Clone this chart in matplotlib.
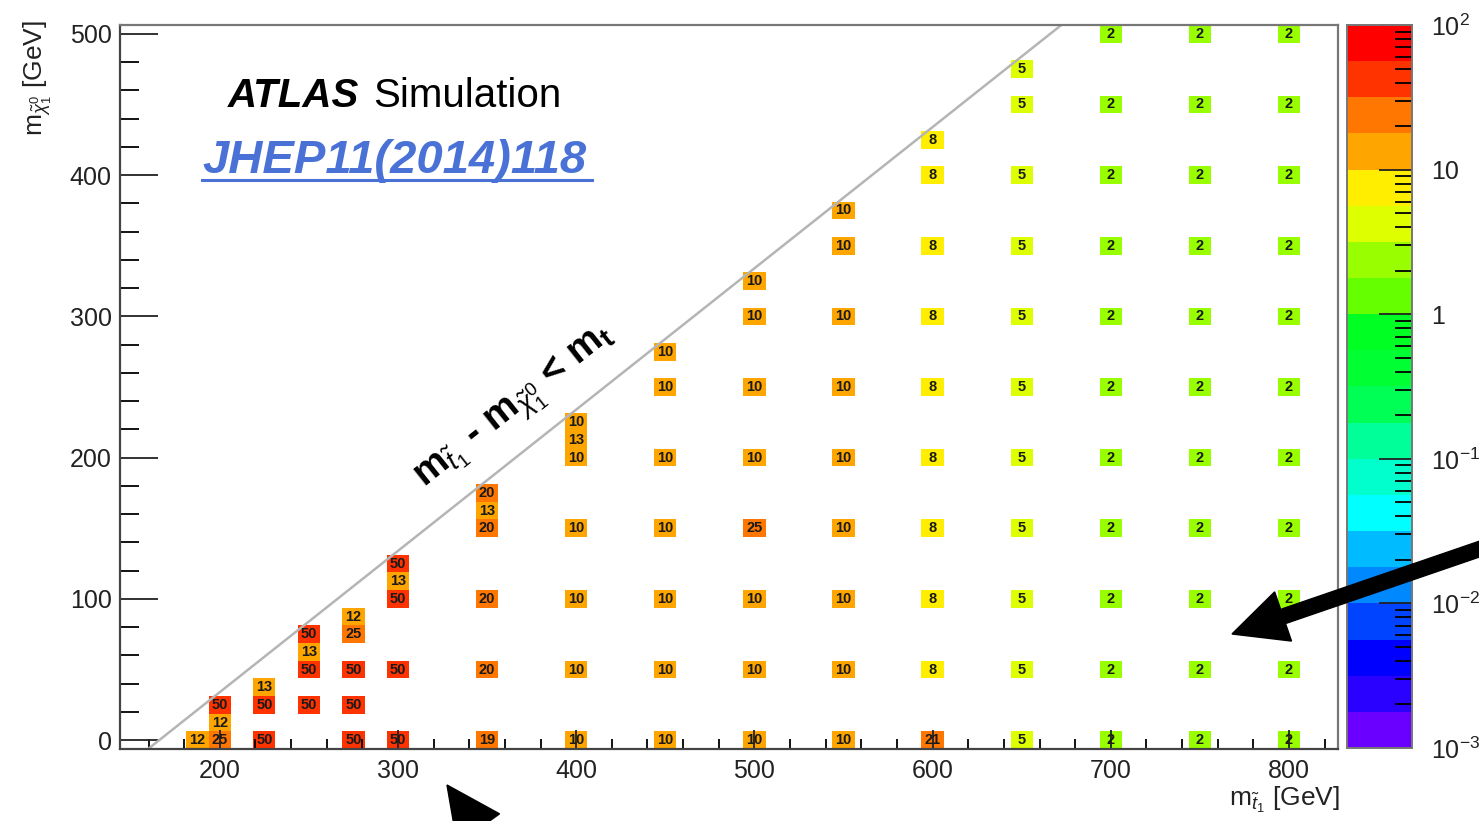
import numpy as np
import matplotlib
matplotlib.use("Agg")
import matplotlib.pyplot as plt
from matplotlib.colors import ListedColormap, BoundaryNorm
from matplotlib.ticker import MultipleLocator, LogLocator, FuncFormatter, NullFormatter
from matplotlib.patches import FancyArrow
from matplotlib.lines import Line2D
import matplotlib.transforms as mtransforms

plt.rcParams['font.family'] = 'Liberation Sans'
plt.rcParams['mathtext.fontset'] = 'custom'
plt.rcParams['mathtext.rm'] = 'Liberation Sans'
plt.rcParams['mathtext.it'] = 'Liberation Sans:italic'
plt.rcParams['mathtext.bf'] = 'Liberation Sans:bold'

# grid points: stop mass, neutralino mass, number of events per point (x1000)
m_stop = [187.5,
          200, 200, 200,
          225, 225, 225,
          250, 250, 250, 250,
          275, 275, 275, 275, 275,
          300, 300, 300, 300, 300,
          350, 350, 350, 350, 350, 350,
          400, 400, 400, 400, 400, 400, 400,
          450, 450, 450, 450, 450, 450, 450,
          500, 500, 500, 500, 500, 500, 500, 500,
          550, 550, 550, 550, 550, 550, 550, 550, 550,
          600, 600, 600, 600, 600, 600, 600, 600, 600, 600,
          650, 650, 650, 650, 650, 650, 650, 650, 650, 650, 650,
          700, 700, 700, 700, 700, 700, 700, 700, 700, 700, 700,
          750, 750, 750, 750, 750, 750, 750, 750, 750, 750, 750,
          800, 800, 800, 800, 800, 800, 800, 800, 800, 800, 800]
m_lsp = [0,
         0, 12.5, 25,
         0, 25, 37.5,
         25, 50, 62.5, 75,
         0, 25, 50, 75, 87.5,
         0, 50, 100, 112.5, 125,
         0, 50, 100, 150, 162.5, 175,
         0, 50, 100, 150, 200, 212.5, 225,
         0, 50, 100, 150, 200, 250, 275,
         0, 50, 100, 150, 200, 250, 300, 325,
         0, 50, 100, 150, 200, 250, 300, 350, 375,
         0, 50, 100, 150, 200, 250, 300, 350, 400, 425,
         0, 50, 100, 150, 200, 250, 300, 350, 400, 450, 475,
         0, 50, 100, 150, 200, 250, 300, 350, 400, 450, 500,
         0, 50, 100, 150, 200, 250, 300, 350, 400, 450, 500,
         0, 50, 100, 150, 200, 250, 300, 350, 400, 450, 500]
n_events = [12,
            25, 12, 50,
            50, 50, 13,
            50, 50, 13, 50,
            50, 50, 50, 25, 12,
            50, 50, 50, 13, 50,
            19, 20, 20, 20, 13, 20,
            10, 10, 10, 10, 10, 13, 10,
            10, 10, 10, 10, 10, 10, 10,
            10, 10, 10, 25, 10, 10, 10, 10,
            10, 10, 10, 10, 10, 10, 10, 10, 10,
            21, 8, 8, 8, 8, 8, 8, 8, 8, 8,
            5, 5, 5, 5, 5, 5, 5, 5, 5, 5, 5,
            2, 2, 2, 2, 2, 2, 2, 2, 2, 2, 2,
            2, 2, 2, 2, 2, 2, 2, 2, 2, 2, 2,
            2, 2, 2, 2, 2, 2, 2, 2, 2, 2, 2]

m_top = 166.0
bin_w = 12.5

# ROOT-like rainbow palette, 20 contour levels over 1e-3 .. 1e2
palette = ['#6a00ff', '#2a00ff', '#0000ff', '#0044ff', '#0088ff',
           '#00bbff', '#00ffff', '#00ffcc', '#00ff99', '#00ff55',
           '#00ff33', '#00ff22', '#66ff00', '#99ff00', '#ddff00',
           '#ffee00', '#ffa500', '#ff7700', '#ff3300', '#ff0000']
cmap = ListedColormap(palette)
bounds = 10 ** np.linspace(-3, 2, 21)
norm = BoundaryNorm(bounds, cmap.N)

W, H = 1479, 821
fig = plt.figure(figsize=(W / 100, H / 100), dpi=100)
ax = fig.add_axes([120 / W, 1 - 749 / H, 1218 / W, 724 / H])

# 2D histogram filled from the grid points
x_edges = np.arange(143.75, 831.25 + 1, bin_w)
y_edges = np.arange(-6.25, 506.25 + 1, bin_w)
Z = np.full((len(y_edges) - 1, len(x_edges) - 1), np.nan)
for xs, ys, v in zip(m_stop, m_lsp, n_events):
    ix = int(round((xs - x_edges[0]) / bin_w - 0.5))
    iy = int(round((ys - y_edges[0]) / bin_w - 0.5))
    Z[iy, ix] = v
ax.pcolormesh(x_edges, y_edges, np.ma.masked_invalid(Z), cmap=cmap, norm=norm, zorder=1)

for xs, ys, v in zip(m_stop, m_lsp, n_events):
    ax.text(xs, ys, f'{v:g}', ha='center', va='center', fontsize=10.5,
            fontweight='bold', color='#1a1a1a', zorder=3)

# kinematic boundary
ax.plot([m_top - 20, m_top + 520], [-20, 520], color='#b5b5b5', lw=1.8, zorder=2)
ax.text(366, 235,
        r'$\mathbf{m}_{\tilde{t}_{1}}$ - $\mathbf{m}_{\tilde{\chi}^{0}_{1}}$ < $\mathbf{m}_{\mathbf{t}}$',
        rotation=38.5, rotation_mode='anchor', ha='center', va='center',
        fontsize=28, fontweight='bold', zorder=3)

ax.set_xlim(144, 827.5)
ax.set_ylim(-6.25, 506.25)
ax.xaxis.set_major_locator(MultipleLocator(100))
ax.xaxis.set_minor_locator(MultipleLocator(20))
ax.yaxis.set_major_locator(MultipleLocator(100))
ax.yaxis.set_minor_locator(MultipleLocator(20))
ax.tick_params(axis='x', which='major', direction='in', length=14, width=1.3,
               labelsize=18, pad=7, colors='#222222')
ax.tick_params(axis='x', which='minor', direction='in', length=7, width=1.3)
ax.tick_params(axis='y', which='major', direction='in', length=27, width=1.3,
               labelsize=18, pad=6, colors='#222222')
ax.tick_params(axis='y', which='minor', direction='in', length=14, width=1.3)
for side in ['left', 'bottom']:
    ax.spines[side].set_color('#444444')
    ax.spines[side].set_linewidth(1.6)
for side in ['top', 'right']:
    ax.spines[side].set_color('#777777')
    ax.spines[side].set_linewidth(1.6)

fig.text(1340 / W, 1 - 800 / H, r'$\mathrm{m}_{\tilde{t}_{1}}$ [GeV]', ha='right', va='center',
         fontsize=19, color='#222222')
fig.text(38 / W, 1 - 20 / H, r'$\mathrm{m}_{\tilde{\chi}^{0}_{1}}$ [GeV]', ha='center', va='top',
         rotation=90, fontsize=19, color='#222222')

# colour scale
cax = fig.add_axes([1347 / W, 1 - 748 / H, 65 / W, 723 / H])
cax.set_yscale('log')
centers = np.sqrt(bounds[:-1] * bounds[1:])
cax.pcolormesh([0, 1], bounds, centers.reshape(-1, 1), cmap=cmap, norm=norm)
cax.set_xlim(0, 1)
cax.set_ylim(1e-3, 1e2)
cax.set_xticks([])
cax.yaxis.tick_right()
cax.yaxis.set_major_locator(LogLocator(base=10, numticks=10))
cax.yaxis.set_minor_locator(LogLocator(base=10, subs=np.arange(2, 10), numticks=20))
cax.yaxis.set_minor_formatter(NullFormatter())
cb_labels = {-3: r'$10^{-3}$', -2: r'$10^{-2}$', -1: r'$10^{-1}$', 0: '1', 1: '10', 2: r'$10^{2}$'}
cax.yaxis.set_major_formatter(FuncFormatter(lambda v, p: cb_labels.get(int(round(np.log10(v))), '')))
cax.tick_params(axis='y', which='major', direction='in', length=24, width=1.3,
                labelsize=18, pad=14, colors='#222222')
cax.tick_params(axis='y', which='minor', direction='in', length=12, width=1.3)
for s in cax.spines.values():
    s.set_color('#777777')
    s.set_linewidth(1.4)

# labels
fig.text(228 / W, 1 - 107 / H, 'ATLAS', fontsize=29, fontweight='bold', style='italic',
         ha='left', va='baseline')
fig.text(373 / W, 1 - 107 / H, 'Simulation', fontsize=29, ha='left', va='baseline')
fig.text(202 / W, 1 - 173 / H, 'JHEP11(2014)118', fontsize=34, fontweight='bold', style='italic',
         color='#4a72d6', ha='left', va='baseline')
fig.add_artist(Line2D([202 / W, 592 / W], [1 - 180 / H, 1 - 180 / H], color='#4a72d6', lw=2.2))

# pointer arrows, in pixel coordinates
px = mtransforms.Affine2D().scale(1 / W, 1 / H) + fig.transFigure
fig.add_artist(FancyArrow(1535, 291, -303, -104, width=15, head_width=52, head_length=54,
                          length_includes_head=True, color='black', transform=px))
fig.add_artist(FancyArrow(619, -205, -172, 241, width=15, head_width=52, head_length=54,
                          length_includes_head=True, color='black', transform=px))

fig.savefig('out.png', dpi=100)
